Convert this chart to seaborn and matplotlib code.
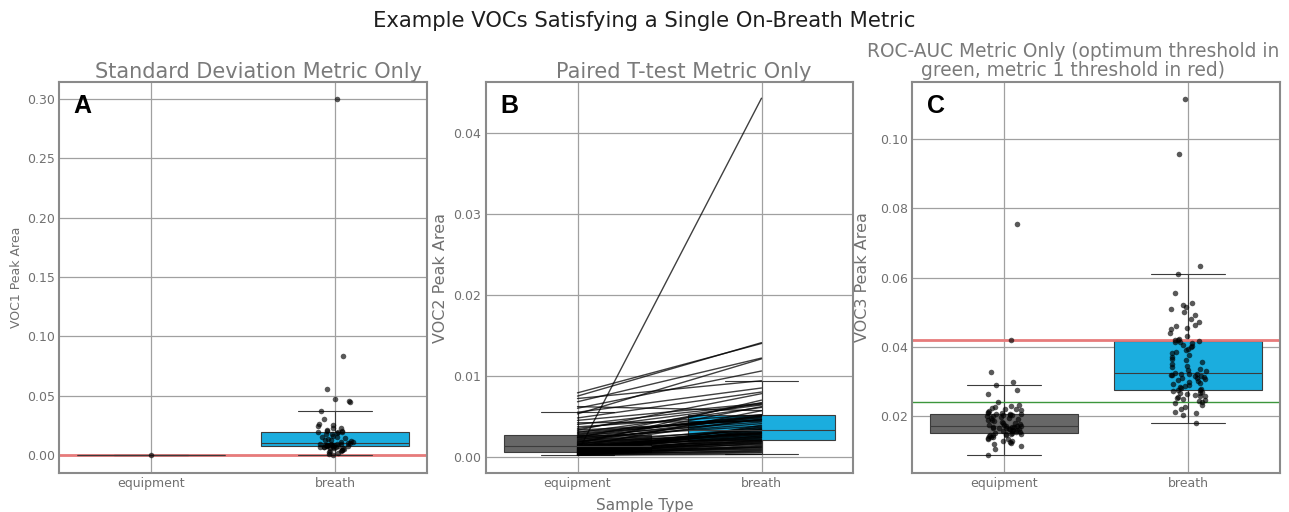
import numpy as np
import pandas as pd
import matplotlib
matplotlib.use("Agg")
import matplotlib.pyplot as plt
import seaborn as sns
from matplotlib.ticker import MultipleLocator, FormatStrFormatter

# ---------------- data ----------------
categories = ["equipment", "breath"]
box_colors = ["#676767", "#1badde"]

suptitle = "Example VOCs Satisfying a Single On-Breath Metric"
panel_titles = ["Standard Deviation Metric Only",
                "Paired T-test Metric Only",
                "ROC-AUC Metric Only (optimum threshold in\ngreen, metric 1 threshold in red)"]
panel_letters = ["A", "B", "C"]
y_labels = ["VOC1 Peak Area", "VOC2 Peak Area", "VOC3 Peak Area"]
x_label = "Sample Type"

# Panel A (VOC1)
voc1_equipment = [0.0]
voc1_breath = [0.300, 0.0834, 0.0556, 0.0475, 0.0455, 0.0447, 0.0371, 0.0303, 0.0261,
               0.0250, 0.0245, 0.0230, 0.0225, 0.0210, 0.0200, 0.0195, 0.0190, 0.0185,
               0.0180, 0.0178, 0.0198, 0.0196, 0.0160, 0.0155, 0.0150, 0.0142, 0.0135,
               0.0130, 0.0122, 0.0115, 0.0110, 0.0105, 0.0100, 0.0097, 0.0095, 0.0093,
               0.0091, 0.0089, 0.0088, 0.0087, 0.0085, 0.0084, 0.0082, 0.0080, 0.0079,
               0.0078, 0.0076, 0.0074, 0.0072, 0.0071, 0.0070, 0.0068, 0.0067, 0.0065,
               0.0062, 0.0058, 0.0055, 0.0050, 0.0045, 0.0040, 0.0035, 0.0030, 0.0025,
               0.0018, 0.0010, 0.0002]
voc1_threshold = 0.0

# Panel B (VOC2) - paired samples
voc2_equipment = [0.0079, 0.0075, 0.0072, 0.0068, 0.0062, 0.0060, 0.0055, 0.0053, 0.0048, 0.0045,
                  0.0042, 0.0040, 0.0037, 0.0035, 0.0033, 0.0031, 0.0030, 0.0029, 0.0028, 0.0027,
                  0.0026, 0.0025, 0.0024, 0.0023, 0.0022, 0.0021, 0.0020, 0.0019, 0.0018, 0.0017,
                  0.0016, 0.0015, 0.0015, 0.0014, 0.0014, 0.0013, 0.0013, 0.0012, 0.0012, 0.0011,
                  0.0011, 0.0010, 0.0010, 0.0010, 0.0009, 0.0009, 0.0009, 0.0008, 0.0008, 0.0008,
                  0.0007, 0.0007, 0.0007, 0.0007, 0.0006, 0.0006, 0.0006, 0.0006, 0.0005, 0.0005,
                  0.0005, 0.0005, 0.0004, 0.0004, 0.0004, 0.0004, 0.0003, 0.0003, 0.0003, 0.0003,
                  0.0002, 0.0002, 0.0002, 0.0002, 0.0002, 0.0018, 0.0024, 0.0033, 0.0016, 0.0012]
voc2_breath = [0.0140, 0.0141, 0.0094, 0.0122, 0.0057, 0.0106, 0.0085, 0.0121, 0.0080, 0.0066,
               0.0044, 0.0065, 0.0052, 0.0064, 0.0045, 0.0046, 0.0061, 0.0050, 0.0048, 0.0050,
               0.0043, 0.0052, 0.0038, 0.0049, 0.0041, 0.0046, 0.0033, 0.0028, 0.0051, 0.0029,
               0.0036, 0.0047, 0.0027, 0.0034, 0.0022, 0.0030, 0.0025, 0.0031, 0.0019, 0.0035,
               0.0024, 0.0030, 0.0017, 0.0029, 0.0026, 0.0015, 0.0033, 0.0021, 0.0012, 0.0037,
               0.0018, 0.0028, 0.0011, 0.0032, 0.0020, 0.0009, 0.0024, 0.0016, 0.0443, 0.0023,
               0.0010, 0.0034, 0.0014, 0.0007, 0.0026, 0.0019, 0.0013, 0.0006, 0.0021, 0.0008,
               0.0005, 0.0003, 0.0017, 0.0039, 0.0012, 0.0062, 0.0067, 0.0078, 0.0070, 0.0057]

# Panel C (VOC3)
voc3_equipment = [0.0085, 0.0103, 0.0112, 0.0118, 0.0121, 0.0124, 0.0126, 0.0128, 0.0131, 0.0133,
                  0.0135, 0.0137, 0.0139, 0.0141, 0.0143, 0.0144, 0.0145, 0.0146, 0.0147, 0.0148,
                  0.0150, 0.0151, 0.0153, 0.0154, 0.0155, 0.0157, 0.0158, 0.0159, 0.0160, 0.0161,
                  0.0162, 0.0163, 0.0164, 0.0165, 0.0166, 0.0167, 0.0168, 0.0169, 0.0169, 0.0170,
                  0.0172, 0.0174, 0.0176, 0.0178, 0.0180, 0.0182, 0.0184, 0.0186, 0.0188, 0.0190,
                  0.0192, 0.0194, 0.0196, 0.0198, 0.0200, 0.0201, 0.0202, 0.0203, 0.0204, 0.0205,
                  0.0206, 0.0207, 0.0209, 0.0211, 0.0213, 0.0215, 0.0218, 0.0220, 0.0222, 0.0225,
                  0.0228, 0.0232, 0.0240, 0.0264, 0.0274, 0.0288, 0.0297, 0.0326, 0.0420, 0.0754]
voc3_breath = [0.0178, 0.0201, 0.0208, 0.0212, 0.0218, 0.0225, 0.0232, 0.0238, 0.0240, 0.0243,
               0.0246, 0.0249, 0.0252, 0.0254, 0.0256, 0.0258, 0.0260, 0.0262, 0.0265, 0.0267,
               0.0269, 0.0271, 0.0273, 0.0275, 0.0277, 0.0280, 0.0283, 0.0286, 0.0289, 0.0292,
               0.0295, 0.0298, 0.0300, 0.0303, 0.0306, 0.0308, 0.0310, 0.0312, 0.0314, 0.0316,
               0.0318, 0.0319, 0.0320, 0.0321, 0.0322, 0.0324, 0.0328, 0.0332, 0.0336, 0.0340,
               0.0345, 0.0350, 0.0355, 0.0360, 0.0365, 0.0370, 0.0375, 0.0380, 0.0385, 0.0390,
               0.0394, 0.0398, 0.0402, 0.0406, 0.0409, 0.0412, 0.0414, 0.0416, 0.0418, 0.0420,
               0.0422, 0.0430, 0.0440, 0.0450, 0.0455, 0.0460, 0.0462, 0.0470, 0.0480, 0.0490,
               0.0500, 0.0510, 0.0515, 0.0520, 0.0525, 0.0555, 0.0609, 0.0634, 0.0957, 0.1116]
voc3_metric1_threshold = 0.0420
voc3_optimum_threshold = 0.0239

y_limits = [(-0.0152, 0.3143), (-0.0020, 0.0463), (0.0034, 0.1166)]
y_steps = [0.05, 0.01, 0.02]

# ---------------- style ----------------
sns.set_theme(style="whitegrid")
GRAY_TXT = "#707070"
plt.rcParams.update({
    "font.family": ["DejaVu Sans"],
    "axes.edgecolor": "#8a8a8a",
    "axes.linewidth": 1.5,
    "grid.color": "#a0a0a0",
    "grid.linewidth": 0.9,
    "text.color": GRAY_TXT,
    "axes.labelcolor": GRAY_TXT,
    "xtick.labelcolor": GRAY_TXT,
    "ytick.labelcolor": GRAY_TXT,
    "xtick.labelsize": 9,
    "ytick.labelsize": 9,
})

np.random.seed(3)

fig, axes = plt.subplots(1, 3, figsize=(12.89, 5.12), dpi=100)
fig.subplots_adjust(left=0.0458, right=0.9930, bottom=0.0762, top=0.8398, wspace=0.159)


def long_df(eq, br):
    return pd.DataFrame({"sample": ["equipment"] * len(eq) + ["breath"] * len(br),
                         "value": list(eq) + list(br)})


def draw_box(ax, df):
    sns.boxplot(data=df, x="sample", y="value", order=categories, hue="sample",
                hue_order=categories, palette=box_colors, legend=False,
                showfliers=False, width=0.8, saturation=1, linecolor="#3c3c3c",
                linewidth=0.8, ax=ax)


# Panel A
dfA = long_df(voc1_equipment, voc1_breath)
axA = axes[0]
draw_box(axA, dfA)
axA.axhline(voc1_threshold, color="#e77b7b", lw=2, zorder=1.9)
sns.stripplot(data=dfA, x="sample", y="value", order=categories, color="black",
              alpha=0.65, size=4, jitter=0.1, zorder=3, ax=axA)

# Panel B
dfB = long_df(voc2_equipment, voc2_breath)
axB = axes[1]
draw_box(axB, dfB)
pairs = pd.DataFrame({
    "pair": list(range(len(voc2_equipment))) * 2,
    "pos": [categories.index("equipment")] * len(voc2_equipment)
           + [categories.index("breath")] * len(voc2_breath),
    "value": voc2_equipment + voc2_breath,
})
sns.lineplot(data=pairs, x="pos", y="value", units="pair", estimator=None,
             color="black", alpha=0.75, linewidth=1.0, legend=False, ax=axB)

# Panel C
dfC = long_df(voc3_equipment, voc3_breath)
axC = axes[2]
draw_box(axC, dfC)
axC.axhline(voc3_metric1_threshold, color="#e77b7b", lw=2, zorder=2.5)
axC.axhline(voc3_optimum_threshold, color="#3c963c", lw=1, zorder=2.5)
sns.stripplot(data=dfC, x="sample", y="value", order=categories, color="black",
              alpha=0.65, size=4, jitter=0.1, zorder=3, ax=axC)

title_x = [0.543, 0.539, 0.4375]
title_pad = [3, 3, 4.5]
title_size = [15, 15, 13.4]
label_pad = [3, 4, 7]
label_size = [9, 11.5, 11.5]
for i, ax in enumerate(axes):
    ax.set_xlim(-0.5, 1.5)
    ax.set_ylim(*y_limits[i])
    ax.yaxis.set_major_locator(MultipleLocator(y_steps[i]))
    ax.yaxis.set_major_formatter(FormatStrFormatter("%.2f"))
    ax.set_xticks(range(len(categories)))
    ax.set_xticklabels(categories)
    ax.set_xlabel("")
    ax.set_ylabel(y_labels[i], fontsize=label_size[i], labelpad=label_pad[i], color=GRAY_TXT)
    ax.tick_params(axis="both", length=0, pad=3)
    ax.grid(True, axis="both")
    ax.set_axisbelow(True)
    for sp in ax.spines.values():
        sp.set_visible(True)
        sp.set_color("#8a8a8a")
        sp.set_linewidth(1.5)
    ax.set_title(panel_titles[i], x=title_x[i], pad=title_pad[i], fontsize=title_size[i],
                 color="#7a7a7a", linespacing=1.0)
    ax.text(0.04, 0.97, panel_letters[i], transform=ax.transAxes, ha="left", va="top",
            fontsize=18, fontweight="bold", color="black", family="Liberation Sans")

fig.suptitle(suptitle, y=1 - 27 / 512, va="baseline", fontsize=15.2, color="#1e1e1e")
fig.text(0.5, 2 / 512, x_label, ha="center", va="baseline", fontsize=11, color=GRAY_TXT)

fig.savefig("out.png", dpi=100)
